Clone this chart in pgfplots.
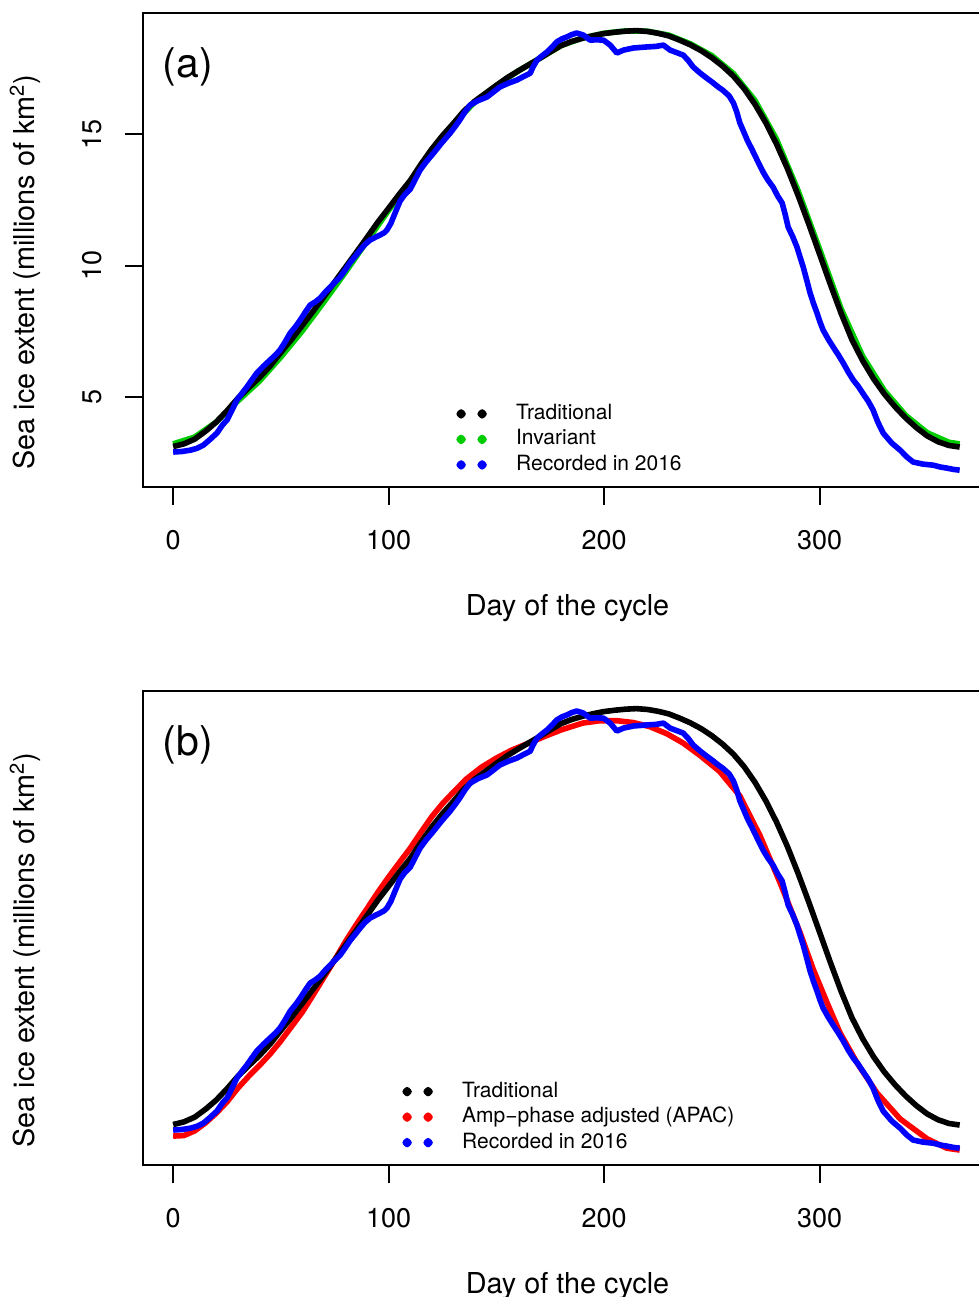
\documentclass[border=0pt]{standalone}
\usepackage{pgfplots}
\pgfplotsset{compat=1.18}
\usepackage{pgfplotstable}
\usepackage{fontspec}
\setmainfont{TeX Gyre Heros}
\definecolor{green3}{RGB}{0,205,0}

% traditional fit (black)
\pgfplotstableread{
day val
0 3.12
5 3.22
10 3.40
15 3.70
20 4.05
25 4.48
30 4.95
35 5.35
40 5.74
45 6.18
50 6.70
55 7.20
60 7.73
65 8.27
70 8.82
75 9.38
80 9.94
85 10.50
90 11.07
95 11.65
100 12.18
105 12.72
110 13.23
115 13.85
120 14.43
125 14.94
130 15.40
135 15.88
140 16.25
145 16.55
150 16.85
155 17.14
160 17.39
165 17.63
170 17.87
175 18.12
180 18.36
185 18.52
190 18.64
195 18.74
200 18.82
205 18.87
210 18.91
215 18.93
220 18.90
225 18.83
230 18.73
235 18.57
240 18.39
245 18.17
250 17.90
255 17.58
260 17.20
265 16.72
270 16.13
275 15.43
280 14.62
285 13.70
290 12.67
295 11.57
300 10.43
305 9.28
310 8.18
315 7.18
320 6.38
325 5.70
330 5.12
335 4.63
340 4.20
345 3.83
350 3.52
355 3.30
360 3.16
365 3.10
}\tradtab

% invariant fit (green)
\pgfplotstableread{
day val
0 3.22
10 3.48
20 4.05
30 4.85
40 5.60
50 6.52
60 7.52
70 8.62
80 9.75
90 10.93
100 12.10
110 13.18
120 14.38
130 15.36
140 16.22
150 16.84
160 17.39
170 17.87
180 18.36
190 18.65
200 18.83
210 18.92
220 18.91
230 18.76
240 18.43
250 17.98
260 17.30
270 16.28
280 14.80
290 12.85
300 10.62
310 8.35
320 6.55
330 5.25
340 4.30
350 3.64
360 3.28
365 3.22
}\invtab

% recorded 2016 (blue)
\pgfplotstableread{
day val
0 2.91
4 2.93
8 2.98
11 3.05
14 3.17
17 3.38
20.3 3.63
23 3.95
25 4.13
27 4.45
29.6 4.89
32 5.15
34.2 5.38
36.5 5.65
38.8 5.91
42 6.18
45 6.41
47.5 6.60
49.6 6.79
52 7.10
54.3 7.43
57 7.70
59 7.93
61.5 8.25
63.6 8.50
66 8.62
68.2 8.76
70.5 8.98
72.9 9.18
75 9.36
77.5 9.56
80 9.85
82 10.10
84.5 10.35
86.8 10.59
89 10.80
91.4 10.97
94 11.08
96 11.16
98 11.25
99.2 11.35
101 11.60
102.5 11.90
105.3 12.45
107.5 12.70
110 12.90
112.5 13.30
114.6 13.63
117.5 13.95
120.8 14.27
124.5 14.65
128.5 15.03
131 15.30
133 15.53
135.5 15.85
137.8 16.10
141.5 16.27
145.7 16.41
149 16.62
151.7 16.79
155.5 16.93
159.5 17.05
162.5 17.18
165.7 17.31
167 17.55
168.9 17.81
171 17.96
173.5 18.12
176 18.32
178 18.50
180.5 18.62
182.7 18.69
185 18.78
187.3 18.84
190.4 18.76
193.5 18.57
196.5 18.58
199.7 18.57
202.8 18.38
205.9 18.08
209 18.19
213.6 18.27
219.8 18.31
224 18.33
227.5 18.38
230.6 18.19
233.5 18.10
236.7 18.00
239 17.80
241.3 17.55
244.5 17.32
247.5 17.13
250 16.98
252.9 16.79
255 16.67
258 16.45
260 16.18
261.5 15.85
263 15.42
264.7 15.10
266.4 14.77
268.7 14.40
271 14.01
274 13.52
276 13.25
278.4 12.98
280.5 12.65
282.6 12.38
284 11.95
285.4 11.46
287.5 11.10
289.5 10.70
291 10.30
292.4 9.94
294 9.45
295.6 8.95
297.2 8.55
298.8 8.19
300.2 7.85
301.6 7.55
304 7.20
306.3 6.90
308.7 6.60
311 6.29
313.3 5.95
315.6 5.65
318 5.40
320 5.15
322.5 4.85
324.8 4.51
327 4.05
329.5 3.63
333.5 3.25
337.4 2.98
340.5 2.72
343.4 2.53
348 2.45
352.7 2.41
356 2.34
359 2.30
362 2.25
365 2.22
}\rectab

% amp-phase adjusted (red)
\pgfplotstableread{
day val
0 2.68
5 2.70
10 2.88
15 3.18
20 3.55
25 3.98
30 4.50
35 4.95
40 5.36
45 5.80
50 6.30
55 6.85
60 7.40
65 8.05
70 8.72
75 9.38
80 10.08
85 10.72
90 11.33
95 11.95
100 12.53
105 13.08
110 13.62
115 14.23
120 14.82
125 15.32
130 15.75
136 16.25
143 16.70
150 17.05
157 17.35
165 17.62
172 17.86
180 18.12
190 18.38
198 18.47
206 18.47
213.6 18.40
221 18.25
229 17.98
236.7 17.62
244.5 17.15
253.5 16.55
263 15.61
272.4 14.09
281.7 12.30
291 10.40
297 9.03
303.5 7.74
309.5 6.60
317.4 5.46
326.6 4.32
337.4 3.33
350 2.57
359 2.22
365 2.15
}\apactab

\pgfplotsset{
  iceaxis/.style={
    scale only axis, width=424.5pt, height=237pt,
    xmin=-14, xmax=380, ymin=1.58, ymax=19.6,
    axis line style={line width=1pt},
    every tick/.style={line width=1pt, black},
    tick align=outside, major tick length=9pt,
    tick pos=left,
    xtick={0,100,200,300},
    /pgf/number format/assume math mode=true,
    tick label style={font=\fontsize{13.5}{13.5}\selectfont},
    xticklabel style={anchor=base},
    xticklabel shift=22pt,
    label style={font=\fontsize{14.4}{14.4}\selectfont},
    xlabel={Day of the cycle},
    xlabel style={at={(axis description cs:0.5,-0.255)}, anchor=center},
    ylabel={Sea ice extent (millions of km\textsuperscript{2})},
    ylabel style={at={(axis description cs:-0.139,0.4536)}, anchor=center},
    legend cell align=left,
    legend style={draw=none, fill=none, inner sep=0pt, row sep=3.25pt,
      font=\fontsize{10.5}{12}\selectfont,
      nodes={inner sep=0pt, text height=7.5pt, text depth=2pt}},
    every axis plot/.append style={line width=2.8pt, line join=round, no markers},
  },
  dotpair/.style={legend image code/.code={
    \path[draw=none, fill=none] (-2pt,0pt) -- (27.5pt,0pt);
    \fill (0pt,0pt) circle (0.95pt);
    \fill (10.5pt,0pt) circle (0.95pt);}},
}

\begin{document}
\begin{tikzpicture}
\useasboundingbox (0pt,0pt) rectangle (489.5pt,-648.5pt);
\clip (0pt,0pt) rectangle (489.5pt,-648.5pt);

\begin{axis}[iceaxis,
  at={(71.5pt,-243.5pt)}, anchor=south west,
  ytick={5,10,15},
  yticklabel style={rotate=90, anchor=base},
  yticklabel shift=11.5pt,
  legend style={at={(axis description cs:0.3687,0.1751)}, anchor=north west},
]
\addplot[green3, forget plot] table[x=day, y=val] {\invtab};
\addplot[black, forget plot] table[x=day, y=val] {\tradtab};
\addplot[blue, forget plot] table[x=day, y=val] {\rectab};
\addlegendimage{black, dotpair}
\addlegendentry{Traditional}
\addlegendimage{green3, dotpair}
\addlegendentry{Invariant}
\addlegendimage{blue, dotpair}
\addlegendentry{Recorded in 2016}
\node[font=\fontsize{20.5}{20.5}\selectfont] at (axis description cs:0.053,0.886) {(a)};
\end{axis}

\begin{axis}[iceaxis,
  at={(71.5pt,-582.5pt)}, anchor=south west,
  ytick=\empty,
  legend style={at={(axis description cs:0.3051,0.1757)}, anchor=north west},
]
\addplot[red, forget plot] table[x=day, y=val] {\apactab};
\addplot[black, forget plot] table[x=day, y=val] {\tradtab};
\addplot[blue, forget plot] table[x=day, y=val] {\rectab};
\addlegendimage{black, dotpair}
\addlegendentry{Traditional}
\addlegendimage{red, dotpair}
\addlegendentry{Amp−phase adjusted (APAC)}
\addlegendimage{blue, dotpair}
\addlegendentry{Recorded in 2016}
\node[font=\fontsize{20.5}{20.5}\selectfont] at (axis description cs:0.053,0.886) {(b)};
\end{axis}
\end{tikzpicture}
\end{document}
